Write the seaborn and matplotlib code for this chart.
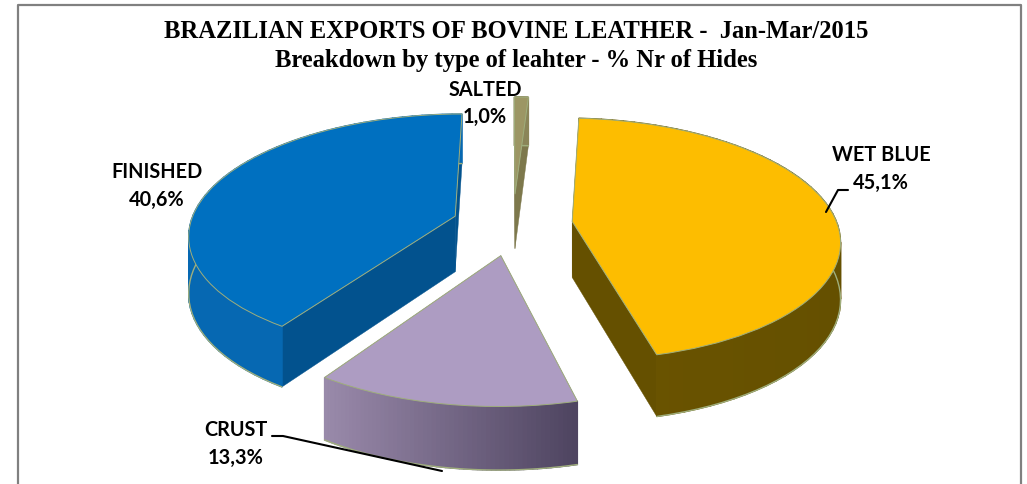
import numpy as np
import matplotlib
matplotlib.use("Agg")
import matplotlib.pyplot as plt
from matplotlib.colors import to_rgb
from matplotlib.transforms import Transform
import seaborn as sns

categories = ["WET BLUE", "CRUST", "FINISHED", "SALTED"]
shares = [45.1, 13.3, 40.6, 1.0]
share_labels = ["45,1%", "13,3%", "40,6%", "1,0%"]
explode = [0.225, 0.26, 0.23, 0.26]

top_colors = ["#fdbd00", "#ad9cc2", "#0070c0", "#9c9664"]
cut_colors = ["#655000", "#8f7fa3", "#02528e", "#7d784c"]
wall_left = ["#6b5400", "#9a8aab", "#0668b2", "#8a8558"]
wall_right = ["#655000", "#4e4460", "#0668b2", "#8a8558"]
edge_color = "#9fae7c"

title_1 = "BRAZILIAN EXPORTS OF BOVINE LEATHER -  Jan-Mar/2015"
title_2 = "Breakdown by type of leahter - % Nr of Hides"


# flat pie coordinates -> picture coordinates, front of the pie a bit bigger
class TiltTransform(Transform):
    input_dims = 2
    output_dims = 2
    is_separable = False
    has_inverse = False

    def transform_non_affine(self, values):
        values = np.asarray(values, dtype=float)
        w = 1 + 0.144 * values[:, 1]
        return np.column_stack([513 + 265 * values[:, 0] / w,
                                224 - 119 * values[:, 1] / w])


# wall height grows towards the front
def wall_drop(flat_y):
    return 56 - 6 * flat_y


def draw_walls(wedge, cut, left, right):
    angles = np.radians(np.linspace(wedge.theta1, wedge.theta2, 60))
    flat = np.column_stack([wedge.center[0] + wedge.r * np.cos(angles),
                            wedge.center[1] + wedge.r * np.sin(angles)])
    arc = tilt.transform(flat)
    bottom = arc + np.column_stack([np.zeros(60), wall_drop(flat[:, 1])])
    apex = tilt.transform(np.array([wedge.center]))[0]
    apex_low = apex + [0, wall_drop(wedge.center[1])]

    # the two cut faces first
    for k in (0, -1):
        quad = np.array([apex, arc[k], bottom[k], apex_low])
        ax.fill(quad[:, 0], quad[:, 1], color=cut, lw=0.3, zorder=2)

    # outer curved wall, strip by strip so that the shade can change
    x_min, x_max = arc[:, 0].min(), arc[:, 0].max()
    left, right = np.array(to_rgb(left)), np.array(to_rgb(right))
    for k in range(59):
        t = ((arc[k, 0] + arc[k + 1, 0]) / 2 - x_min) / (x_max - x_min)
        quad = np.array([arc[k], arc[k + 1], bottom[k + 1], bottom[k]])
        ax.fill(quad[:, 0], quad[:, 1], color=left + (right - left) * t, lw=1.0, zorder=3)
    ax.plot(bottom[:, 0], bottom[:, 1], color=edge_color, lw=1.0, zorder=3)


sns.set_theme(style="white")
plt.rcParams["font.family"] = ["Lato", "DejaVu Sans"]

fig = plt.figure(figsize=(10.27, 4.84), dpi=100)
ax = fig.add_axes([0, 0, 1, 1])
tilt = TiltTransform()

wedges, _ = ax.pie(shares, explode=explode, startangle=86.5, counterclock=False,
                   colors=sns.color_palette(top_colors),
                   wedgeprops={"edgecolor": edge_color, "linewidth": 0.7})

for i, wedge in enumerate(wedges):
    wedge.set_transform(tilt + ax.transData)
    wedge.set_zorder(4)
    draw_walls(wedge, cut_colors[i], wall_left[i], wall_right[i])

# frame has no bottom line in the picture
ax.plot([18, 18, 1021, 1021], [484, 5, 5, 484], color="#808080", lw=1.6, zorder=1)

ax.text(516, 32, title_1, family="Liberation Serif", weight="bold", fontsize=17.7,
        ha="center", va="center", color="black")
ax.text(516, 61, title_2, family="Liberation Serif", weight="bold", fontsize=17.7,
        ha="center", va="center", color="black")

label_spots = [(881, 155, 881, 183), (236, 430, 236, 458),
               (157, 172, 157, 200), (485, 90, 485, 117)]
for name, value, (x1, y1, x2, y2) in zip(categories, share_labels, label_spots):
    ax.text(x1, y1, name, weight="bold", fontsize=14.3, ha="center", va="center", color="black", zorder=6)
    ax.text(x2, y2, value, weight="bold", fontsize=14.3, ha="center", va="center", color="black", zorder=6)

# leader lines
ax.plot([826, 838, 848], [212, 190, 190], color="black", lw=1.5, zorder=6)
ax.plot([272, 283, 442], [436, 436, 471], color="black", lw=1.5, zorder=6)

ax.set_aspect("auto")
ax.set_xlim(0, 1027)
ax.set_ylim(484, 0)
ax.axis("off")

fig.savefig("out.png", dpi=100)
